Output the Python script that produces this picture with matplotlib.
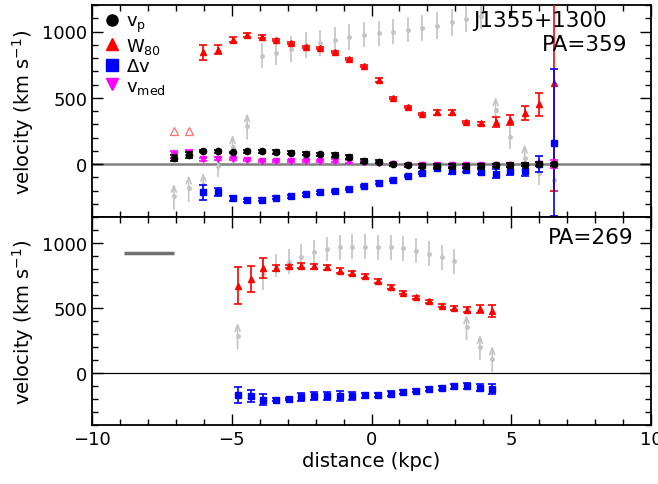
import numpy as np
import matplotlib
matplotlib.use("Agg")
import matplotlib.pyplot as plt
from matplotlib.lines import Line2D
from matplotlib.ticker import MultipleLocator

nan = np.nan

# ---------------- top panel (PA=359) ----------------
x_top = [-7.07, -6.54, -6.02, -5.49, -4.97, -4.45, -3.93, -3.40, -2.88, -2.36, -1.84,
         -1.31, -0.79, -0.27, 0.26, 0.78, 1.30, 1.82, 2.35, 2.87, 3.39, 3.92, 4.44,
         4.96, 5.48, 6.01, 6.53]
w80_top = [nan, nan, 842, 862, 938, 970, 962, 938, 912, 885, 875, 842, 795, 737, 634,
           496, 432, 376, 391, 391, 319, 308, 316, 331, 386, 451, 612]
w80_top_err = [0, 0, 57, 33, 20, 15, 12, 8, 8, 8, 6, 8, 8, 8, 18, 8, 8, 8, 20, 20, 8,
               10, 37, 40, 55, 85, 815]
w80_top_open_x = [-7.07, -6.54]
w80_top_open = [248, 250]
vp_top = [45, 65, 95, 95, 88, 95, 95, 90, 86, 78, 73, 65, 53, 23, 18, -2, -10, -15,
          -15, -15, -15, -15, -10, -8, -5, 0, -3]
vp_top_err = [22, 22, 8, 10, 6, 12, 12, 12, 12, 12, 12, 15, 15, 12, 12, 10, 12, 12,
              12, 12, 12, 12, 12, 12, 12, 15, 12]
vmed_top = [70, 85, 35, 40, 35, 28, 23, 20, 20, 20, 23, 25, 20, 15, 10, 0, -5, -8, -8,
            -8, -8, -8, -8, -5, -5, 0, 0]
vmed_top_err = [25, 20, 10, 12, 8, 8, 8, 8, 8, 8, 8, 10, 10, 8, 8, 8, 8, 8, 8, 8, 8,
                8, 8, 10, 10, 15, 30]
dv_top = [nan, nan, -215, -210, -260, -275, -268, -255, -243, -230, -215, -205, -188,
          -168, -140, -120, -88, -65, -27, -52, -47, -57, -72, -52, -52, 0, 161]
dv_top_err = [0, 0, 55, 30, 20, 12, 12, 12, 10, 10, 8, 8, 8, 8, 10, 8, 8, 8, 8, 20,
              15, 20, 35, 30, 40, 58, 556]
gray_top = [-245, -183, -150, -15, 125, 286, 817, 838, 868, 900, 913, 938, 958, 975,
            988, 1000, 1013, 1026, 1045, 1068, 1093, 1118, 411, 206, 48, -70, -120]
gray_top_err = [97, 98, 85, 85, 95, 97, 95, 90, 100, 100, 100, 95, 95, 95, 95, 95, 95,
                95, 100, 100, 100, 100, 95, 95, 100, 85, 0]
gray_top_lim = [1, 1, 1, 0, 1, 1, 0, 0, 0, 0, 0, 0, 0, 0, 0, 0, 0, 0, 0, 0, 0, 0, 1,
                0, 1, 0, 0]

# ---------------- bottom panel (PA=269) ----------------
x_bot = [-4.79, -4.32, -3.87, -3.42, -2.96, -2.51, -2.04, -1.59, -1.13, -0.68, -0.24,
         0.24, 0.68, 1.13, 1.59, 2.04, 2.51, 2.96, 3.40, 3.88, 4.32]
w80_bot = [673, 724, 808, 808, 821, 826, 821, 813, 788, 772, 747, 706, 660, 619, 583,
           552, 519, 499, 488, 491, 476]
w80_bot_err = [143, 98, 77, 23, 12, 20, 20, 20, 20, 15, 15, 15, 15, 15, 12, 12, 12,
               15, 18, 30, 45]
dv_bot = [-172, -179, -205, -205, -197, -184, -179, -177, -177, -179, -172, -166, -159,
          -149, -136, -123, -113, -103, -100, -113, -123]
dv_bot_err = [62, 45, 40, 12, 8, 28, 30, 30, 35, 30, 20, 15, 20, 15, 12, 12, 15, 20,
              25, 25, 35]
gray_bot = [286, nan, 762, 826, 857, 895, 928, 954, 967, 972, 972, 967, 967, 959, 941,
            916, 890, 859, 353, 199, 110]
gray_bot_err = [100, 0, 121, 90, 95, 95, 95, 95, 96, 96, 96, 96, 96, 96, 96, 96, 96,
                96, 95, 95, 98]
gray_bot_lim = [1, 0, 0, 0, 0, 0, 0, 0, 0, 0, 0, 0, 0, 0, 0, 0, 0, 0, 1, 1, 1]

scale_bar_x = [-8.87, -7.08]
scale_bar_y = [921, 921]

labels = [r'v$_\mathrm{p}$', r'W$_{80}$', r'$\Delta$v', r'v$_\mathrm{med}$']

RED = '#ff0000'
BLUE = '#0000ff'
MAG = '#ff00ff'
GRAY = '#c4c4c4'

plt.rcParams['font.family'] = ['DejaVu Sans']
plt.rcParams['mathtext.default'] = 'regular'

W, H = 658, 485
fig = plt.figure(figsize=(W / 100, H / 100), dpi=100)
L, R = 92 / W, 651 / W
ax1 = fig.add_axes([L, 1 - 218 / H, R - L, 212 / H])
ax2 = fig.add_axes([L, 1 - 426 / H, R - L, 208 / H], sharex=ax1)

def ptext(px, py, s, **kw):
    fig.text(px / W, 1 - py / H, s, **kw)

def draw_gray(ax, x, y, e, lim):
    x = np.asarray(x, float); y = np.asarray(y, float)
    e = np.asarray(e, float); lim = np.asarray(lim, bool)
    ok = ~np.isnan(y)
    nl = ok & ~lim
    ax.errorbar(x[nl], y[nl], yerr=e[nl], fmt='o', ms=2.5, color=GRAY, ecolor=GRAY,
                elinewidth=1.2, capsize=0, zorder=1)
    ll = ok & lim
    ax.plot(x[ll], y[ll], 'o', ms=2.5, color=GRAY, zorder=1)
    for xi, yi, ei in zip(x[ll], y[ll], e[ll]):
        ax.annotate('', xy=(xi, yi + ei), xytext=(xi, yi - ei),
                    arrowprops=dict(arrowstyle='->,head_length=0.45,head_width=0.18',
                                    color=GRAY, lw=1.2, shrinkA=0, shrinkB=0), zorder=1)

def eb(ax, x, y, e, fmt, color, ms, z):
    ax.errorbar(x, y, yerr=e, fmt=fmt, ms=ms, color=color, ecolor=color,
                elinewidth=1.2, capsize=3, capthick=1.2, mec=color, zorder=z)

# top panel
ax1.axhline(0, color='#808080', lw=1.8, zorder=0.5)
draw_gray(ax1, x_top, gray_top, gray_top_err, gray_top_lim)
eb(ax1, x_top, w80_top, w80_top_err, '^', RED, 4, 3)
ax1.plot(w80_top_open_x, w80_top_open, '^', ms=6, mfc='none', mec='#ff7070', mew=0.9, zorder=3)
eb(ax1, x_top, dv_top, dv_top_err, 's', BLUE, 4, 4)
eb(ax1, x_top, vmed_top, vmed_top_err, 'v', MAG, 4.5, 5)
eb(ax1, x_top, vp_top, vp_top_err, 'o', 'black', 4.5, 6)

handles = [Line2D([], [], ls='none', marker='o', color='black', ms=8),
           Line2D([], [], ls='none', marker='^', color=RED, ms=8),
           Line2D([], [], ls='none', marker='s', color=BLUE, ms=8),
           Line2D([], [], ls='none', marker='v', color=MAG, ms=8)]
ax1.legend(handles, labels, loc='upper left', bbox_to_anchor=(0.01, 1.0), frameon=False,
           fontsize=13, handlelength=0.8, handletextpad=0.35, labelspacing=0.08,
           borderaxespad=0.0)
ptext(607, 21, 'J1355+1300', fontsize=15.5, ha='right', va='center')
ptext(627, 45, 'PA=359', fontsize=15.5, ha='right', va='center')

# bottom panel
ax2.axhline(0, color='black', lw=0.9, zorder=0.5)
draw_gray(ax2, x_bot, gray_bot, gray_bot_err, gray_bot_lim)
eb(ax2, x_bot, w80_bot, w80_bot_err, '^', RED, 4, 3)
eb(ax2, x_bot, dv_bot, dv_bot_err, 's', BLUE, 4, 4)
ax2.plot(scale_bar_x, scale_bar_y, color='#707070', lw=2.5, solid_capstyle='butt')
ptext(633, 238, 'PA=269', fontsize=15.5, ha='right', va='center')

for ax in (ax1, ax2):
    ax.set_xlim(-10, 10)
    ax.set_ylim(-400, 1200)
    ax.xaxis.set_major_locator(MultipleLocator(5))
    ax.xaxis.set_minor_locator(MultipleLocator(1))
    ax.yaxis.set_major_locator(MultipleLocator(500))
    ax.yaxis.set_minor_locator(MultipleLocator(100))
    ax.tick_params(which='both', direction='in', top=True, right=True, labelsize=13)
    ax.tick_params(which='major', length=8, width=1)
    ax.tick_params(which='minor', length=4, width=1)
    for s in ax.spines.values():
        s.set_linewidth(1.3)
    ax.set_ylabel(r'velocity (km s$^{-1}$)', fontsize=14, labelpad=4)

plt.setp(ax1.get_xticklabels(), visible=False)
ax2.set_xlabel('distance (kpc)', fontsize=14, labelpad=2)

fig.savefig('out.png', dpi=100)
